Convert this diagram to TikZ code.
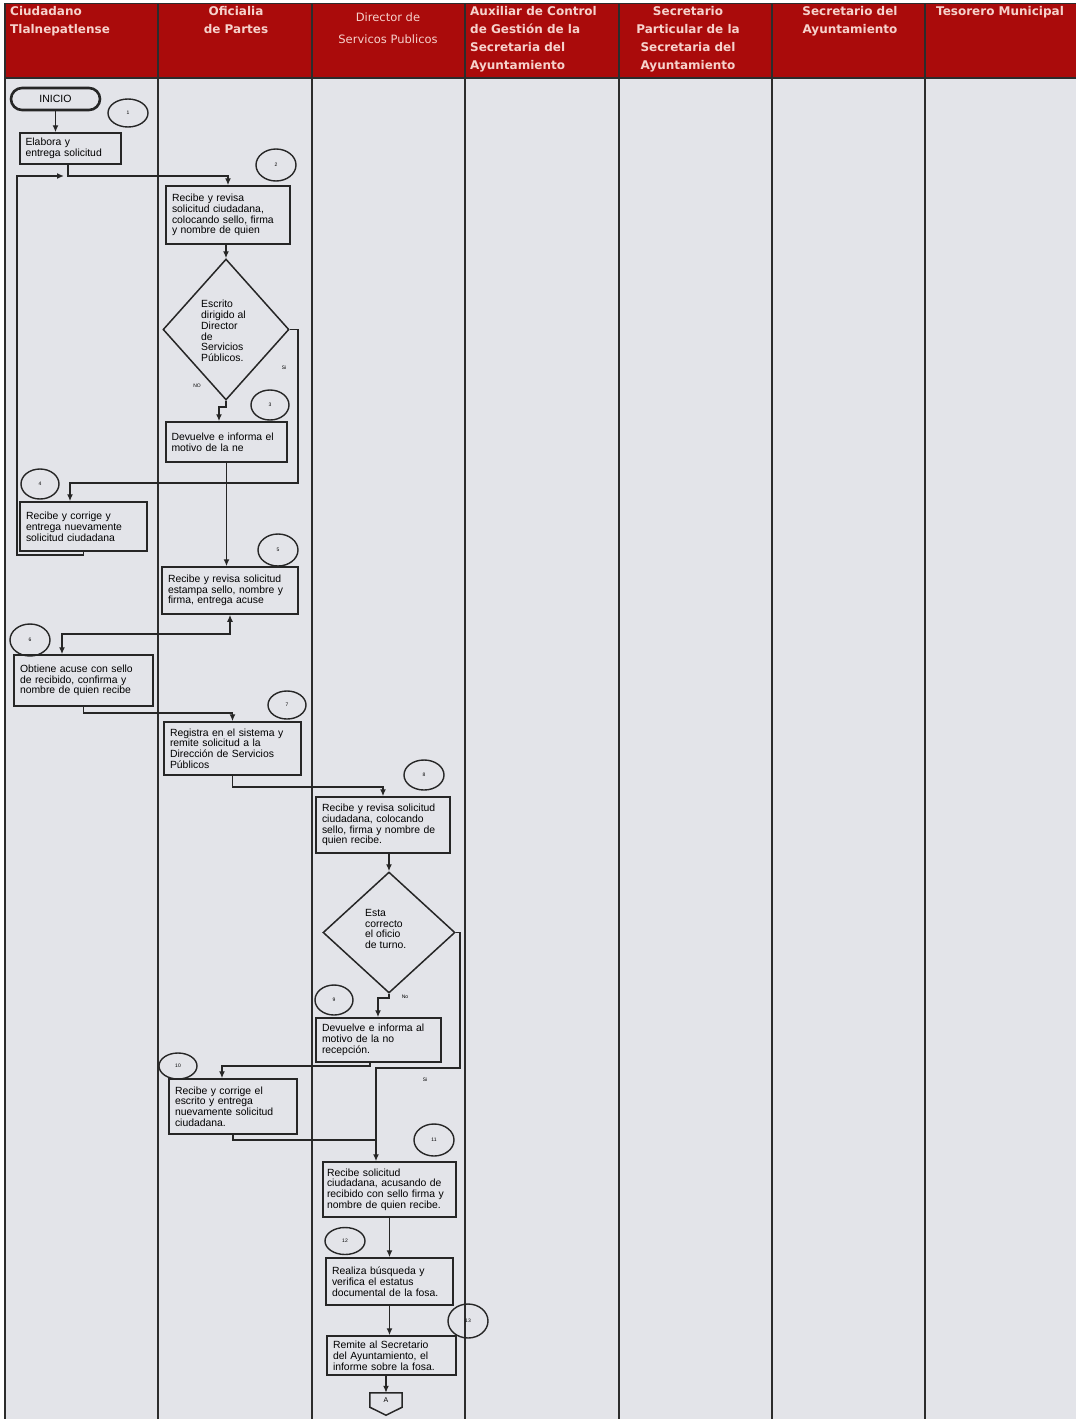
\documentclass[tikz,border=0pt]{standalone}
\usepackage{fontspec}
\setmainfont{Liberation Sans}
\newfontfamily\dejav{DejaVu Sans}
\usetikzlibrary{shapes.geometric,arrows.meta,calc}
\definecolor{bgc}{HTML}{E3E4E9}
\definecolor{hdrc}{HTML}{AA0B0B}
\definecolor{hdrtxt}{HTML}{F6D2CC}
\definecolor{lnc}{HTML}{262626}
\definecolor{lanec}{HTML}{2C2C2C}
\newcommand\myBody{\fontsize{10.4}{10.8}\selectfont}
\newcommand\myHdr{\dejav\bfseries\fontsize{12}{18}\selectfont}
\newcommand\myHdrThree{\dejav\fontsize{11.5}{22}\selectfont}
\newcommand\myTiny{\fontsize{5}{6}\selectfont}
\begin{document}
\begin{tikzpicture}[x=1pt,y=-1pt,
  box/.style={draw=lnc, line width=1.5pt, rectangle, inner sep=0pt, align=left, font=\myBody},
  circ/.style={draw=lnc, line width=1.4pt, ellipse, inner sep=0pt, font=\myTiny},
  dia/.style={draw=lnc, line width=1.5pt, diamond, inner sep=0pt},
  arr/.style={draw=lnc, line width=1.5pt, -{Latex[length=7pt,width=6pt]}},
  arrboth/.style={draw=lnc, line width=1.5pt, {Latex[length=7pt,width=6pt]}-{Latex[length=7pt,width=6pt]}},
  con/.style={draw=lnc, line width=1.5pt},
  hdr/.style={inner sep=0pt, text=hdrtxt, font=\myHdr},
  lbl/.style={inner sep=0pt, font=\myTiny}]
\useasboundingbox (0,0) rectangle (1076,1419);
% background
\fill[white] (0,0) rectangle (1076,1419);
\fill[bgc] (5,78) rectangle (1076,1419);
\fill[hdrc] (5,3) rectangle (1076,78);
\foreach \x in {5,158,312,465,619,772,925} \draw[lanec, line width=1.8pt] (\x,3) -- (\x,1419);
\draw[lanec, line width=1.8pt] (5,78) -- (1076,78);
\draw[lanec, line width=0.8pt] (5,3) -- (1076,3);
% headers
\node[hdr, anchor=north west, align=left] (h1) at (10,6) {Ciudadano\\Tlalnepatlense};
\node[hdr, anchor=north, align=center] (h2) at (236,6) {Oficialia\\de Partes};
\node[hdr, anchor=north, align=center, font=\myHdrThree] (h3) at (388,13) {Director de\\Servicos Publicos};
\node[hdr, anchor=north west, align=left] (h4) at (470,6) {Auxiliar de Control\\de Gestión de la\\Secretaria del\\Ayuntamiento};
\node[hdr, anchor=north, align=center] (h5) at (688,6) {Secretario\\Particular de la\\Secretaria del\\Ayuntamiento};
\node[hdr, anchor=north, align=center] (h6) at (850,6) {Secretario del\\Ayuntamiento};
\node[hdr, anchor=north west, align=left] (h7) at (936,6) {Tesorero Municipal};
% start
\node[draw=lnc, line width=2.6pt, rounded corners=11pt, minimum width=89pt, minimum height=22pt, inner sep=0pt, font=\fontsize{10.5}{12}\selectfont] (ini) at (55.5,99) {INICIO};
% circles
\node[circ, minimum width=40pt, minimum height=28pt] (c1) at (128,113) {1};
\node[circ, minimum width=40pt, minimum height=32pt] (c2) at (276,165) {2};
\node[circ, minimum width=38pt, minimum height=30pt] (c3) at (270,405) {3};
\node[circ, minimum width=38pt, minimum height=30pt] (c4) at (40,484) {4};
\node[circ, minimum width=40pt, minimum height=32pt] (c5) at (278,550) {5};
\node[circ, minimum width=40pt, minimum height=32pt] (c6) at (30,640) {6};
\node[circ, minimum width=38pt, minimum height=28pt] (c7) at (287,705) {7};
\node[circ, minimum width=40pt, minimum height=30pt] (c8) at (424,775) {8};
\node[circ, minimum width=38pt, minimum height=30pt] (c9) at (334,1000) {9};
\node[circ, minimum width=38pt, minimum height=26pt] (c10) at (178,1066) {10};
\node[circ, minimum width=40pt, minimum height=32pt] (c11) at (434,1140) {11};
\node[circ, minimum width=40pt, minimum height=27pt] (c12) at (345,1241) {12};
\node[circ, minimum width=40pt, minimum height=34pt] (c13) at (468,1321) {13};
% boxes
\node[box, minimum width=101pt, minimum height=31pt, text width=90pt] (b1) at (70.5,148.5) {Elabora y\\entrega solicitud};
\node[box, minimum width=124pt, minimum height=58pt, text width=112pt] (b2) at (228,215) {Recibe y revisa\\solicitud ciudadana,\\colocando sello, firma\\y nombre de quien};
\node[dia, minimum width=126pt, minimum height=141pt] (d1) at (226,329.5) {};
\node[inner sep=0pt, anchor=west, align=left, font=\myBody] (d1t) at (201,331) {Escrito\\dirigido al\\Director\\de\\Servicios\\Públicos.};
\node[box, minimum width=121pt, minimum height=40pt, text width=110pt] (b3) at (226.5,442) {Devuelve e informa el\\motivo de la ne};
\node[box, minimum width=127pt, minimum height=49pt, text width=115pt] (b4) at (83.5,526.5) {Recibe y corrige y\\entrega nuevamente\\solicitud ciudadana};
\node[box, minimum width=136pt, minimum height=47pt, text width=124pt] (b5) at (230,590.5) {Recibe y revisa solicitud\\estampa sello, nombre y\\firma, entrega acuse};
\node[box, minimum width=139pt, minimum height=51pt, text width=127pt] (b6) at (83.5,680.5) {Obtiene acuse con sello\\de recibido, confirma y\\nombre de quien recibe};
\node[box, minimum width=137pt, minimum height=53pt, text width=125pt] (b7) at (232.5,748.5) {Registra en el sistema y\\remite solicitud a la\\Dirección de Servicios\\Públicos};
\node[box, minimum width=134pt, minimum height=56pt, text width=122pt] (b8) at (383,825) {Recibe y revisa solicitud\\ciudadana, colocando\\sello, firma y nombre de\\quien recibe.};
\node[dia, minimum width=132pt, minimum height=121pt] (d2) at (389,932.5) {};
\node[inner sep=0pt, anchor=west, align=left, font=\myBody] (d2t) at (365,929) {Esta\\correcto\\el oficio\\de turno.};
\node[box, minimum width=125pt, minimum height=44pt, text width=113pt] (b9) at (378.5,1040) {Devuelve e informa al\\motivo de la no\\recepción.};
\node[box, minimum width=128pt, minimum height=55pt, text width=116pt] (b10) at (233,1106.5) {Recibe y corrige el\\escrito y entrega\\nuevamente solicitud\\ciudadana.};
\node[box, minimum width=133pt, minimum height=55pt, text width=125pt] (b11) at (389.5,1189.5) {Recibe solicitud\\ciudadana, acusando de\\recibido con sello firma y\\nombre de quien recibe.};
\node[box, minimum width=127pt, minimum height=47pt, text width=115pt] (b12) at (389.5,1281.5) {Realiza búsqueda y\\verifica el estatus\\documental de la fosa.};
\node[box, minimum width=129pt, minimum height=39pt, text width=117pt] (b13) at (391.5,1355.5) {Remite al Secretario\\del Ayuntamiento, el\\informe sobre la fosa.};
\node[inner sep=0pt, minimum width=32pt, minimum height=14pt, font=\fontsize{7}{8}\selectfont] (A) at (386,1400) {A};
\draw[con] (A.north west) -- (A.north east) -- (A.south east) -- ($(A.south)+(0,8)$) -- (A.south west) -- cycle;
% labels
\node[lbl] (lno1) at (197,386) {NO};
\node[lbl] (lsi1) at (284,368) {Si};
\node[lbl] (lno2) at (405,997) {No};
\node[lbl] (lsi2) at (425,1080) {Si};
% coordinates
\coordinate (j1) at (68,176);
\coordinate (l1) at (17,555);
\coordinate (l2) at (17,176);
\coordinate (l3) at (64,176);
\coordinate (k1) at (219,407);
\coordinate (s1) at (298,483);
\coordinate (s2) at (70,483);
\coordinate (m1) at (62,634);
\coordinate (y713) at (0,713);
\coordinate (y787) at (0,787);
\coordinate (k2) at (378,998);
\coordinate (k3) at (370,1066);
\coordinate (k4) at (222,1066);
\coordinate (k5) at (460,1068);
\coordinate (k6) at (376,1068);
\coordinate (k7) at (376,1140);
% connectors
\draw[arr] (ini.south) -- (ini.south |- b1.north);
\draw[arr] (b1.south -| j1) -- (j1) -| (b2.north);
\draw[arr] (b4.south) |- (l1) -- (l2) -- (l3);
\draw[arr] (b2.south -| d1.north) -- (d1.north);
\draw[arr] (d1.south) |- (k1) -- (k1 |- b3.north);
\draw[arr] (d1.east) -| (s1) -- (s2) -- (s2 |- b4.north);
\draw[arr] (b3.south) -- (b3.south |- b5.north);
\draw[arrboth] (b5.south) |- (m1) -- (m1 |- b6.north);
\draw[arr] (b6.south) |- (b7.north |- y713) -- (b7.north);
\draw[arr] (b7.south) |- (b8.north |- y787) -- (b8.north);
\draw[arr] (b8.south -| d2.north) -- (d2.north);
\draw[arr] (d2.south) |- (k2) -- (k2 |- b9.north);
\draw[arr] (k3 |- b9.south) -- (k3) -- (k4) -- (k4 |- b10.north);
\draw[arr] (d2.east) -| (k5) -- (k6) -- (k6 |- b11.north);
\draw[con] (b10.south) |- (k7);
\draw[arr] (b11.south) -- (b11.south |- b12.north);
\draw[arr] (b12.south) -- (b12.south |- b13.north);
\draw[arr] (b13.south -| A.north) -- (A.north);
\end{tikzpicture}
\end{document}
